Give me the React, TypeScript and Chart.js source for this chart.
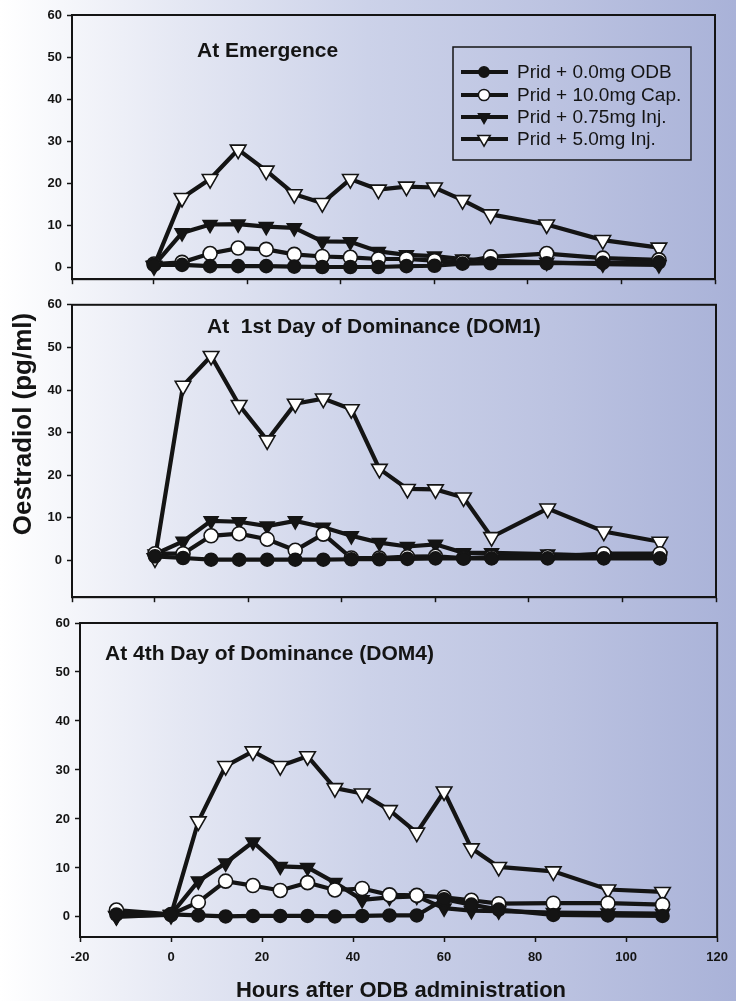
import React, { useEffect, useRef } from "react";
import { Chart, registerables } from "chart.js";

Chart.register(...registerables);

// ---------- DATA ----------
const hours = [0, 6, 12, 18, 24, 30, 36, 42, 48, 54, 60, 66, 72, 84, 96, 108];
const hoursDom4 = [-12, 0, 6, 12, 18, 24, 30, 36, 42, 48, 54, 60, 66, 72, 84, 96, 108];

const seriesLabels = [
  "Prid + 0.0mg ODB",
  "Prid + 10.0mg Cap.",
  "Prid + 0.75mg Inj.",
  "Prid + 5.0mg Inj.",
];

const panelTitles = [
  "At Emergence",
  "At  1st Day of Dominance (DOM1)",
  "At 4th Day of Dominance (DOM4)",
];

// At Emergence
const emOdb = [0.6, 0.6, 0.3, 0.3, 0.3, 0.2, 0.1, 0.1, 0.1, 0.3, 0.4, 0.9, 1.0, 1.0, 1.1, 1.2];
const emCap = [0.8, 1.2, 3.3, 4.6, 4.3, 3.1, 2.6, 2.4, 2.0, 2.0, 1.6, 1.3, 2.5, 3.3, 2.2, 1.8];
const emInj075 = [0.5, 8.2, 10.2, 10.3, 9.7, 9.4, 6.2, 6.1, 3.8, 3.0, 2.7, 2.0, 1.6, 1.2, 0.8, 0.6];
const emInj5 = [0.3, 16.5, 21, 28, 23, 17.4, 15.3, 21, 18.5, 19.2, 19, 16, 12.6, 10.2, 6.5, 4.7];

// At 1st Day of Dominance
const d1Odb = [1.0, 0.6, 0.2, 0.2, 0.2, 0.2, 0.2, 0.3, 0.3, 0.4, 0.5, 0.5, 0.5, 0.5, 0.5, 0.5];
const d1Cap = [1.6, 1.6, 5.8, 6.3, 5.0, 2.4, 6.2, 0.6, 0.6, 0.9, 1.0, 0.6, 0.8, 0.9, 1.6, 1.6];
const d1Inj075 = [1.5, 4.5, 9.3, 9.1, 8.1, 9.3, 7.8, 5.8, 4.2, 3.3, 3.8, 1.8, 1.8, 1.5, 1.1, 1.0];
const d1Inj5 = [0.5, 41, 48, 36.5, 28.2, 36.8, 38, 35.5, 21.5, 16.8, 16.7, 14.8, 5.5, 12.2, 6.8, 4.4];

// At 4th Day of Dominance
const d4Odb = [0.5, 0.5, 0.3, 0.1, 0.2, 0.2, 0.2, 0.1, 0.2, 0.3, 0.3, 3.6, 2.5, 1.5, 0.4, 0.3, 0.2];
const d4Cap = [1.4, 0.5, 3.0, 7.3, 6.4, 5.4, 7.0, 5.5, 5.8, 4.5, 4.4, 4.0, 3.4, 2.7, 2.8, 2.8, 2.5];
const d4Inj075 = [0, 0.5, 7.3, 11, 15.3, 10.3, 10.1, 7, 3.5, 4.0, 4.2, 1.8, 1.3, 1.2, 0.9, 0.8, 0.7];
const d4Inj5 = [0.2, 0.4, 19.5, 30.8, 33.8, 30.8, 32.8, 26.3, 25.2, 21.8, 17.2, 25.6, 14, 10.2, 9.3, 5.6, 5.1];

const yTicks = [0, 10, 20, 30, 40, 50, 60];
const xTicks = [-20, 0, 20, 40, 60, 80, 100, 120];

const yTitle = "Oestradiol (pg/ml)";
const xTitle = "Hours after ODB administration";

// ---------- STYLE ----------
const FONT = '"Liberation Sans", Arial, Helvetica, sans-serif';
const INK = "#141414";

const markerStyles = [
  { pointStyle: "circle", radius: 6.5, fill: INK, rotation: 0 },
  { pointStyle: "circle", radius: 7, fill: "#ffffff", rotation: 0 },
  { pointStyle: "triangle", radius: 8, fill: INK, rotation: 180 },
  { pointStyle: "triangle", radius: 9, fill: "#ffffff", rotation: 180 },
];

type Panel = {
  top: number;
  height: number;
  x: number[];
  series: number[][];
  title: string;
  titleX: number;
  titleY: number;
  xMin: number;
  yMin: number;
  padTop: number;
  padRight: number;
  yAxisW: number;
  xAxisH: number;
  showXLabels: boolean;
  legend: boolean;
  yTitleBox: boolean;
  xTitleBox: boolean;
};

const panels: Panel[] = [
  {
    top: 0, height: 292, x: hours, series: [emOdb, emCap, emInj075, emInj5],
    title: panelTitles[0], titleX: 197, titleY: 57,
    xMin: -17.54, yMin: -2.8, padTop: 15, padRight: 21, yAxisW: 72, xAxisH: 7,
    showXLabels: false, legend: true, yTitleBox: false, xTitleBox: false,
  },
  {
    top: 292, height: 318, x: hours, series: [d1Odb, d1Cap, d1Inj075, d1Inj5],
    title: panelTitles[1], titleX: 207, titleY: 41,
    xMin: -17.75, yMin: -8.6, padTop: 8, padRight: 20, yAxisW: 72, xAxisH: 8,
    showXLabels: false, legend: false, yTitleBox: true, xTitleBox: false,
  },
  {
    top: 610, height: 391, x: hoursDom4, series: [d4Odb, d4Cap, d4Inj075, d4Inj5],
    title: panelTitles[2], titleX: 105, titleY: 50,
    xMin: -20, yMin: -4.1, padTop: 13, padRight: 14, yAxisW: 80, xAxisH: 64,
    showXLabels: true, legend: false, yTitleBox: false, xTitleBox: true,
  },
];

function drawMarker(ctx: CanvasRenderingContext2D, i: number, x: number, y: number, scale: number) {
  const m = markerStyles[i];
  const r = m.radius * scale;
  ctx.save();
  ctx.beginPath();
  if (m.pointStyle === "circle") {
    ctx.arc(x, y, r, 0, Math.PI * 2);
  } else {
    for (let k = 0; k < 3; k++) {
      const a = Math.PI + k * (2 * Math.PI / 3);
      const px = x + Math.sin(a) * r;
      const py = y - Math.cos(a) * r;
      if (k === 0) ctx.moveTo(px, py); else ctx.lineTo(px, py);
    }
    ctx.closePath();
  }
  ctx.fillStyle = m.fill;
  ctx.fill();
  ctx.lineWidth = 1.5;
  ctx.strokeStyle = INK;
  ctx.stroke();
  ctx.restore();
}

function makeConfig(p: Panel): any {
  const datasets = p.series.map((vals, i) => ({
    label: seriesLabels[i],
    data: vals.map((v, k) => ({ x: p.x[k], y: v })),
    borderColor: INK,
    borderWidth: 4.2,
    backgroundColor: markerStyles[i].fill,
    pointStyle: markerStyles[i].pointStyle,
    pointRadius: markerStyles[i].radius,
    pointRotation: markerStyles[i].rotation,
    pointBackgroundColor: markerStyles[i].fill,
    pointBorderColor: INK,
    pointBorderWidth: 1.6,
    tension: 0,
    fill: false,
    clip: false,
  }));

  const framePlugin = {
    id: "frame",
    beforeDatasetsDraw(chart: any) {
      const { ctx, chartArea: a } = chart;
      ctx.save();
      ctx.strokeStyle = INK;
      ctx.lineWidth = 2;
      ctx.strokeRect(a.left, a.top, a.right - a.left, a.bottom - a.top);
      ctx.restore();
    },
  };

  const textPlugin = {
    id: "texts",
    afterDraw(chart: any) {
      const { ctx } = chart;
      ctx.save();
      ctx.fillStyle = INK;
      ctx.textAlign = "left";
      ctx.textBaseline = "alphabetic";
      ctx.font = `bold 21px ${FONT}`;
      ctx.fillText(p.title, p.titleX, p.titleY);

      if (p.legend) {
        const bx = 453, by = 47, bw = 238, bh = 113;
        ctx.lineWidth = 1.5;
        ctx.strokeStyle = INK;
        ctx.strokeRect(bx, by, bw, bh);
        ctx.font = `19px ${FONT}`;
        ctx.textBaseline = "middle";
        const rows = [72, 95, 117, 139];
        seriesLabels.forEach((lab, i) => {
          const ry = rows[i];
          ctx.beginPath();
          ctx.lineWidth = 4.2;
          ctx.strokeStyle = INK;
          ctx.moveTo(461, ry);
          ctx.lineTo(508, ry);
          ctx.stroke();
          drawMarker(ctx, i, 484, ry, 0.8);
          ctx.fillStyle = INK;
          ctx.fillText(lab, 517, ry + 1);
        });
      }

      if (p.yTitleBox) {
        ctx.save();
        ctx.translate(24, 132);
        ctx.rotate(-Math.PI / 2);
        ctx.font = `bold 26px ${FONT}`;
        ctx.textAlign = "center";
        ctx.textBaseline = "middle";
        ctx.fillStyle = INK;
        ctx.fillText(yTitle, 0, 0);
        ctx.restore();
      }

      if (p.xTitleBox) {
        ctx.font = `bold 22px ${FONT}`;
        ctx.textAlign = "center";
        ctx.textBaseline = "alphabetic";
        ctx.fillText(xTitle, 401, 387);
      }
      ctx.restore();
    },
  };

  const tickValuesX = xTicks.filter((v) => v >= p.xMin && v <= 120);
  if (tickValuesX[0] !== p.xMin) tickValuesX.unshift(p.xMin);

  return {
    type: "line",
    data: { datasets },
    options: {
      animation: false,
      responsive: false,
      devicePixelRatio: 1,
      events: [],
      layout: {
        autoPadding: false,
        padding: { left: 0, right: p.padRight, top: p.padTop, bottom: 0 },
      },
      plugins: {
        legend: { display: false },
        tooltip: { enabled: false },
        title: { display: false },
      },
      scales: {
        x: {
          type: "linear",
          min: p.xMin,
          max: 120,
          afterFit: (s: any) => { s.height = p.xAxisH; },
          afterBuildTicks: (s: any) => { s.ticks = tickValuesX.map((v) => ({ value: v })); },
          grid: { drawOnChartArea: false, drawTicks: true, tickLength: 5, tickWidth: 1.5, color: INK },
          border: { display: true, color: INK, width: 2 },
          ticks: {
            display: p.showXLabels,
            autoSkip: false,
            maxRotation: 0,
            padding: 8,
            color: INK,
            font: { family: FONT, size: 13, weight: "bold" },
            callback: (v: any) => (xTicks.includes(v) ? String(v) : ""),
          },
        },
        y: {
          type: "linear",
          min: p.yMin,
          max: 60,
          afterFit: (s: any) => { s.width = p.yAxisW; },
          afterBuildTicks: (s: any) => { s.ticks = yTicks.map((v) => ({ value: v })); },
          grid: { drawOnChartArea: false, drawTicks: true, tickLength: 5, tickWidth: 1.5, color: INK },
          border: { display: true, color: INK, width: 2 },
          ticks: {
            padding: 5,
            color: INK,
            font: { family: FONT, size: 13, weight: "bold" },
          },
        },
      },
    },
    plugins: [framePlugin, textPlugin],
  };
}

function PanelChart({ p }: { p: Panel }) {
  const ref = useRef<HTMLCanvasElement | null>(null);
  useEffect(() => {
    if (!ref.current) return;
    const chart = new Chart(ref.current, makeConfig(p));
    return () => chart.destroy();
  }, [p]);
  return (
    <canvas
      ref={ref}
      width={736}
      height={p.height}
      style={{ position: "absolute", left: 0, top: p.top, width: 736, height: p.height, display: "block" }}
    />
  );
}

export default function App() {
  return (
    <div
      style={{
        position: "absolute",
        left: 0,
        top: 0,
        width: 736,
        height: 1001,
        overflow: "hidden",
        background: "linear-gradient(to right, #ffffff 0%, #e4e7f3 25%, #ccd2e9 50%, #bcc3e1 75%, #a9b2d8 100%)",
      }}
    >
      {panels.map((p, i) => (
        <PanelChart key={i} p={p} />
      ))}
    </div>
  );
}
